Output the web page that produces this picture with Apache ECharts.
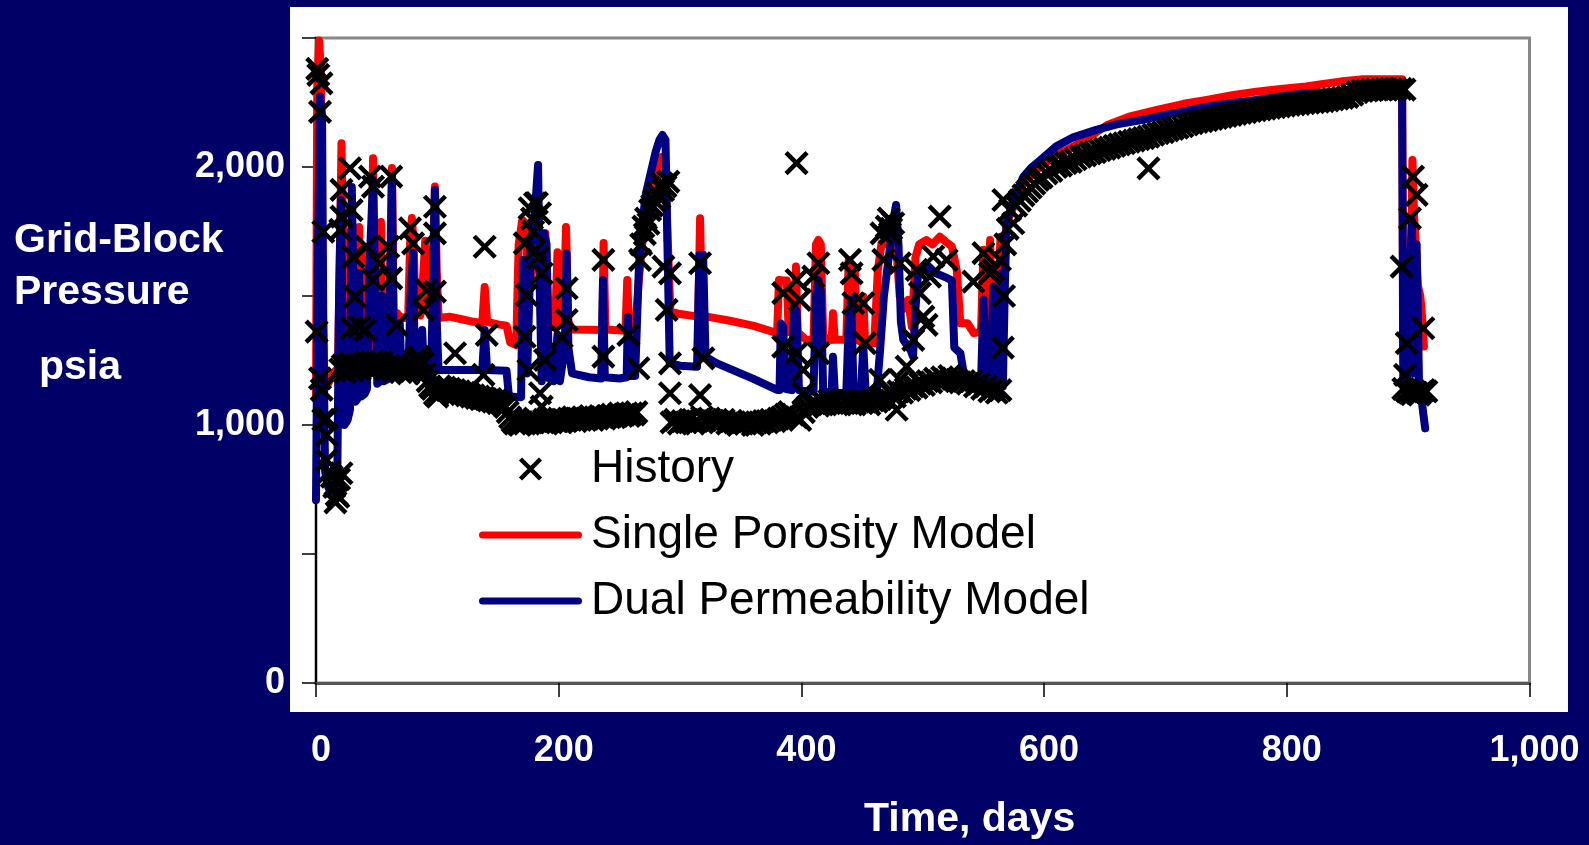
<!DOCTYPE html>
<html>
<head>
<meta charset="utf-8">
<script src="https://cdn.jsdelivr.net/npm/echarts@6/dist/echarts.min.js"></script>
<style>
  html, body { margin: 0; padding: 0; background: #000066; }
  #chart { width: 1589px; height: 845px; }
</style>
</head>
<body>
<div id="chart"></div>
<script>
// 压力历史 (day, psia)
const history = [
  // 早期散点
  [0.5,1362],[1,2380],[1.9,2357],[3.3,2214],[4.5,2324],[6,1749],[3.3,1181],[4.7,1136],[6,1020],
  [8.8,1026],[8.8,961],[8.8,864],[11,820],[13,800],[15,760],[17,729],[18.4,722],[16,700],[19,790],[21,813],
  // 20-100 天
  [20,1215],[22,1230],[24,1205],[26,1225],[28,1240],[30,1210],[32,1225],[34,1235],[36,1215],[38,1230],
  [40,1240],[42,1220],[44,1235],[46,1245],[48,1225],[50,1240],[52,1230],[54,1245],[56,1225],[58,1215],
  [60,1230],[62,1220],[64,1210],[66,1225],[68,1215],[70,1205],[72,1220],[74,1210],[76,1200],[78,1215],
  [80,1230],[82,1250],[84,1265],[86,1255],[88,1240],[90,1200],[92,1170],[94,1150],[96,1140],[98,1120],[100,1110],
  [21,1911],[21,1808],[20,1756],[28,1995],[29.4,1833],[30.8,1652],[32,1497],[29.4,1375],[36,1381],[40.4,1368],
  [44.5,1963],[47,1924],[41.7,1691],[47,1562],[52.7,1627],[59.6,1691],[62,1963],[62,1568],[66.5,1388],
  [77.5,1762],[80,1704],[88.4,1446],[91,1523],[98,1517],[98,1846],[98,1743],[114.6,1278],
  // 100-160 天
  [102,1150],[104,1140],[106,1145],[108,1135],[110,1140],[112,1130],[114,1135],[116,1125],[118,1130],[120,1120],
  [122,1125],[124,1115],[126,1120],[128,1110],[130,1115],[132,1105],[134,1110],[136,1100],[138,1105],[140,1100],
  [142,1095],[144,1100],[146,1090],[148,1095],[150,1085],[152,1090],[154,1080],[156,1070],[158,1050],[160,1030],
  [139,1691],[140.7,1349],[138,1194],
  // 160-265 天
  [162,1015],[164,1005],[166,1010],[168,1000],[170,1010],[172,1005],[174,1015],[176,1020],[178,1010],[180,1025],
  [182,1015],[184,1010],[188,1020],[190,1005],[192,1015],[194,1010],[196,1020],[198,1015],[200,1025],[202,1010],
  [204,1020],[206,1015],[208,1025],[210,1020],[212,1030],[214,1015],[216,1025],[218,1020],[220,1030],[222,1020],
  [224,1025],[226,1035],[228,1020],[230,1030],[232,1025],[234,1035],[236,1030],[238,1025],[240,1035],[242,1030],
  [244,1040],[246,1030],[248,1035],[250,1045],[252,1035],[254,1040],[256,1045],[258,1035],[260,1045],[262,1040],[264,1050],
  [173.6,1504],[172,1704],[180.5,1859],[184.6,1820],[180.5,1678],[186,1588],[172,1342],[175,1213],[188.7,1252],
  [206.6,1530],[206.6,1407],[202.5,1342],[184.6,1123],[186,1071],[176,1840],[178,1800],[182,1860],[179,1750],[183,1650],
  [236.8,1640],[236.8,1265],[257.4,1349],[265.7,1220],[267,1640],[269.8,1769],[272,1800],[275.3,1833],[277,1850],
  [279,1870],[280.8,1898],[283,1880],[284.9,1937],[286,1910],[288,1925],[290.4,1943],[268,1700],[271,1740],[274,1780],
  [286.3,1614],[291.7,1588],[289,1446],[291.7,1239],[291.7,1123],[316.5,1627],[319.2,1258],[316.5,1116],
  // 290-400 天
  [293,1010],[296,1020],[299,1005],[302,1015],[305,1010],[308,1020],[311,1005],[314,1015],[318,1030],[321,1020],
  [324,1025],[327,1015],[330,1020],[333,1010],[336,1020],[339,1005],[342,1015],[345,1010],[348,1000],[351,1010],
  [354,1005],[357,1015],[360,1000],[363,1010],[366,1005],[369,1015],[372,1010],[375,1020],[378,1015],[381,1025],
  [384,1030],[387,1040],[390,1050],[393,1040],[396,1030],[399,1020],
  // 400-566 天
  [402,1050],[405,1070],[408,1080],[411,1085],[414,1075],[417,1090],[420,1080],[423,1095],[426,1085],[429,1090],
  [432,1080],[435,1095],[438,1085],[441,1090],[444,1080],[447,1095],[450,1085],[453,1090],[456,1080],[459,1095],
  [462,1090],[465,1100],[468,1110],[471,1100],[474,1120],[477,1110],[480,1130],[483,1125],[486,1140],[489,1135],
  [492,1150],[495,1145],[498,1160],[501,1155],[504,1170],[507,1165],[510,1180],[513,1170],[516,1185],[519,1175],
  [522,1190],[525,1180],[528,1175],[531,1165],[534,1170],[537,1160],[540,1170],[543,1150],[546,1160],[549,1140],
  [552,1150],[555,1130],[558,1140],[561,1125],[564,1135],
  [396,2015],[385,1511],[396,1562],[398.8,1485],[385,1304],[396,1278],[401.6,1214],[414,1278],[414,1627],
  [409.8,1575],[401.6,1123],[440,1640],[441.4,1588],[442.8,1472],[451,1472],[452.4,1317],[464.7,1175],
  [467.5,1640],[470.3,1769],[473,1743],[475.7,1782],[466,1743],[472,1800],[474,1760],[481.2,1627],[495,1601],
  [497.7,1511],[500.5,1420],[503.2,1388],[492.2,1330],[508.7,1653],[519.7,1640],[506,1575],[486.7,1226],
  [481.2,1175],[478.5,1059],[514,1808],[541.7,1556],[550,1666],[555.4,1588],[563.6,1640],[558,1601],
  // 566-900 天
  [566.4,1872],[571.9,1834],[574.6,1782],[568,1700],[570,1760],[567,1500],[566,1300],[577,1850],[580,1870],
  [583,1890],[586,1905],[589,1920],[592,1935],[595,1950],[598,1960],
  [602,1975],[606,1985],[610,2000],[614,2005],[618,2015],[622,2020],[626,2030],[630,2040],[634,2045],[638,2053],
  [642,2058],[646,2065],[650,2070],[654,2075],[658,2082],[662,2088],[666,2092],[670,2098],[674,2102],[678,2108],
  [682,2112],[686,2118],[690,2125],[694,2131],[698,2135],[702,2142],[706,2148],[710,2152],[714,2158],[718,2165],
  [722,2170],[726,2175],[730,2178],[734,2182],[738,2186],[742,2190],[746,2194],[750,2198],[754,2202],[758,2206],
  [762,2210],[766,2213],[770,2217],[774,2220],[778,2223],[782,2226],[786,2229],[790,2232],[794,2235],[798,2238],
  [802,2241],[806,2243],[810,2245],[814,2247],[818,2249],[822,2251],[826,2253],[830,2255],[834,2258],[838,2262],
  [842,2265],[846,2268],[850,2272],[854,2280],[858,2290],[862,2295],[866,2297],[870,2298],[874,2300],[878,2300],
  [882,2301],[886,2302],[890,2302],[894,2303],[897,2300],
  [686,1995],
  [904,1963],[907,1892],[901.5,1801],[894.6,1614],[912.5,1375],[898.8,1317],[897.4,1194],
  [896,1140],[899,1130],[901,1125],[903,1120],[905,1130],[907,1125],[909,1118],[911,1128],[913,1135],[915,1130]
];

// 单孔模型
const singlePorosity = [
  [0,1100],[1,2300],[2.5,2490],[4,2380],[5.5,1500],[7,1140],[10,1160],[14,1200],[18,1220],
  [19.5,1600],[21,2092],[22.5,1700],[24,1260],[27,1260],[28.5,1750],[30,1650],[31.5,1280],
  [34,1270],[35.5,1767],[37,1300],[40,1270],[41.5,1690],[43,1290],[45,1290],[47,2034],[48.5,1450],[50,1300],
  [52,1300],[53.5,1787],[55,1340],[58,1360],[61,1550],[62.6,1996],[64,1420],[67,1433],[69,1420],
  [73,1415],[76,1420],[77.5,1700],[79,1802],[80.5,1700],[82,1430],[86,1425],[88,1550],[90,1714],[91.5,1480],
  [94,1425],[96,1500],[98,1924],[99.5,1600],[101,1415],[110,1420],[120,1410],[130,1400],[137,1395],[139,1535],
  [141,1400],[150,1390],[157,1385],[160,1320],[165,1310],[167,1700],[170,1795],[173,1780],[175,1500],[178,1600],
  [182,1750],[186,1740],[189,1743],[191,1500],[194,1380],[197,1380],[199,1670],[201,1400],[204,1390],[206,1767],
  [208,1400],[211,1370],[236,1368],[237,1705],[238.5,1370],[255,1365],[256.5,1562],[258,1370],[263,1370],
  [266,1560],[270,1760],[275,1850],[280,1930],[285,2039],[288,1980],[290,1700],[292,1440],[300,1430],[315,1420],
  [316.5,1801],[318,1430],[322,1420],[340,1405],[360,1385],[380,1356],[381.5,1562],[385,1560],[388,1560],
  [389.5,1360],[394,1360],[395.5,1614],[397,1360],[404,1330],[410,1330],[412,1700],[414,1717],[416,1700],
  [418,1340],[425,1330],[426,1433],[427.5,1330],[437,1330],[439,1640],[442,1614],[444,1600],[446,1330],
  [450,1320],[451,1498],[452.5,1317],[460,1317],[463,1600],[466,1704],[470,1700],[474,1720],[478,1700],
  [481,1500],[484,1450],[488,1485],[491,1381],[494,1650],[497,1700],[503,1717],[508,1700],[514,1730],
  [519,1710],[524,1692],[528,1600],[531,1394],[537,1394],[542,1356],[548,1360],[550,1679],[552,1380],
  [554,1390],[555.5,1717],[557,1400],[562,1400],[564,1730],[566,1400],[567.5,1600],[569,1782],[576,1860],
  [583,1937],[597,2002],[610,2045],[624,2079],[640,2125],[652,2163],[670,2195],[693,2221],[715,2245],
  [734,2260],[755,2278],[775,2292],[795,2302],[816,2312],[830,2322],[844,2331],[863,2340],[895,2340],
  [896,1300],[899,1200],[902,1500],[903.5,2027],[905,1800],[906.5,1795],[908,1540],[910,1500],[911.5,1420],[913,1304]
];

// 双渗模型
const dualPerm = [
  [0,709],[1.5,1600],[3.3,2273],[5,2200],[6,1400],[7.5,820],[10,760],[13,730],[16,715],[17.5,780],
  [19,1500],[20.5,1872],[22,1300],[23.5,1000],[26,1019],[28,1060],[29.5,1922],[31,1500],[32.5,1090],
  [34,1100],[35.5,1589],[37,1110],[40,1120],[42,1140],[44,1600],[47,1950],[49,1500],[50.5,1160],[53,1170],
  [54.5,1500],[56,1170],[60,1180],[61.5,1650],[62.6,1961],[64,1300],[66,1190],[68,1200],[69,1394],[70.5,1200],
  [76,1190],[78,1500],[80,1667],[81.5,1200],[86,1190],[87.5,1368],[89,1190],[95,1200],[96.5,1600],[98,1911],
  [99.5,1400],[101,1213],[137,1213],[139,1368],[141,1213],[157,1210],[159,1110],[169,1108],[170.5,1640],
  [172,1450],[174,1200],[177,1700],[180,1800],[183,2008],[184.5,1500],[186,1170],[188,1743],[190,1700],
  [192,1180],[196,1170],[199,1350],[201,1170],[205,1300],[206.5,1665],[208,1300],[211,1200],[225,1185],
  [235,1180],[236.5,1562],[238,1185],[250,1180],[256,1185],[257,1420],[258.5,1190],[263,1190],[266,1600],
  [268,1750],[272,1900],[277,2000],[280,2060],[283,2105],[285.5,2124],[288,2105],[290,1600],[291.5,1240],
  [300,1230],[314,1226],[316,1660],[319,1660],[321,1265],[330,1240],[345,1210],[360,1180],[380,1136],
  [382,1136],[383,1394],[385,1380],[387,1140],[392,1135],[394,1459],[396,1440],[398,1135],[405,1130],
  [410,1130],[412,1500],[414,1562],[416,1520],[418,1125],[425,1130],[426,1265],[427.5,1125],[437,1123],
  [439,1400],[441,1485],[443,1130],[449,1125],[451,1304],[453,1125],[462,1123],[465,1300],[468,1500],
  [472,1650],[476,1800],[478,1853],[480,1700],[482,1400],[484,1330],[490,1290],[492,1265],[494,1450],
  [496,1580],[500,1600],[505,1614],[510,1590],[515,1580],[520,1570],[524,1560],[526,1300],[531,1278],
  [535,1165],[548,1160],[550,1485],[552,1160],[556,1170],[558,1537],[560,1160],[564,1170],[565,1588],
  [566,1150],[567.5,1500],[569,1780],[575,1880],[583,1963],[590,2000],[597,2027],[610,2080],[624,2115],
  [643,2144],[660,2165],[680,2182],[693,2195],[715,2215],[734,2234],[755,2248],[775,2260],[795,2273],
  [816,2286],[844,2292],[863,2312],[895,2312],[896,1150],[899,1120],[901,1500],[903,1795],[905,1200],
  [907,1700],[909,1150],[911,1100],[914,987]
];

const FONT = "'Liberation Sans', Arial, sans-serif";
const CROSS = "path://M0,0L10,10M10,0L0,10";
// 图例中的粗线条 (圆头)
const BAR = "path://M3.5,0H99.5A3.5,3.5,0,0,1,99.5,7H3.5A3.5,3.5,0,0,1,3.5,0Z";
const crossStyle = { color: "none", borderColor: "#000", borderWidth: 4.5, opacity: 1 };

// 千分位
const fmt = (v) => String(v).replace(/\B(?=(\d{3})+(?!\d))/g, ",");

const chart = echarts.init(document.getElementById("chart"));

const options = {
  backgroundColor: "#000066",
  animation: false,
  // 白色面板
  graphic: [
    {
      type: "rect",
      z: -10,
      shape: { x: 290, y: 7, width: 1278, height: 705 },
      style: { fill: "#ffffff" },
    },
  ],
  title: [
    {
      text: "Grid-Block\nPressure",
      left: 14,
      top: 215,
      padding: 0,
      textStyle: { color: "#fff", fontSize: 41, fontWeight: "bold", lineHeight: 52, fontFamily: FONT },
    },
    {
      text: "psia",
      left: 39,
      top: 347,
      padding: 0,
      textStyle: { color: "#fff", fontSize: 41, fontWeight: "bold", lineHeight: 41, fontFamily: FONT },
    },
    {
      text: "Time, days",
      left: 864,
      top: 799,
      padding: 0,
      textStyle: { color: "#fff", fontSize: 41, fontWeight: "bold", lineHeight: 41, fontFamily: FONT },
    },
  ],
  legend: {
    data: [
      { name: "History", icon: CROSS, itemStyle: crossStyle },
      { name: "Single Porosity Model", icon: BAR },
      { name: "Dual Permeability Model", icon: BAR },
    ],
    orient: "vertical",
    left: 479,
    top: 446,
    padding: 0,
    itemWidth: 103,
    itemHeight: 20,
    itemGap: 20,
    selectedMode: false,
    textStyle: { color: "#000", fontSize: 46, lineHeight: 46, fontFamily: FONT, padding: [0, 0, 0, 4] },
  },
  grid: {
    left: 316,
    top: 38,
    width: 1213.5,
    height: 645,
    show: true,
    backgroundColor: "transparent",
    borderColor: "#888",
    borderWidth: 3,
    outerBoundsMode: "none",
  },
  xAxis: {
    type: "value",
    min: 0,
    max: 1000,
    interval: 200,
    splitLine: { show: false },
    axisLine: { lineStyle: { color: "#555", width: 3 } },
    axisTick: { length: 14, lineStyle: { color: "#000", width: 1.5 } },
    axisLabel: {
      margin: 50,
      padding: [0, 0, 0, 10],
      color: "#fff",
      fontSize: 36,
      fontWeight: "bold",
      fontFamily: FONT,
      formatter: fmt,
    },
  },
  yAxis: {
    type: "value",
    min: 0,
    max: 2500,
    interval: 500,
    splitLine: { show: false },
    axisLine: { show: true, lineStyle: { color: "#000", width: 2 } },
    axisTick: { show: true, length: 14, lineStyle: { color: "#000", width: 1.5 } },
    axisLabel: {
      margin: 31,
      color: "#fff",
      fontSize: 36,
      fontWeight: "bold",
      fontFamily: FONT,
      formatter: (v) => (v % 1000 === 0 ? fmt(v) : ""),
    },
  },
  series: [
    {
      name: "Single Porosity Model",
      type: "line",
      data: singlePorosity,
      showSymbol: false,
      symbol: "none",
      z: 2,
      itemStyle: { color: "#ff0000" },
      lineStyle: { color: "#ff0000", width: 8, cap: "round", join: "round" },
    },
    {
      name: "Dual Permeability Model",
      type: "line",
      data: dualPerm,
      showSymbol: false,
      symbol: "none",
      z: 3,
      itemStyle: { color: "#000080" },
      lineStyle: { color: "#000080", width: 8, cap: "round", join: "round" },
    },
    {
      name: "History",
      type: "scatter",
      data: history,
      symbol: CROSS,
      symbolSize: 21,
      z: 4,
      itemStyle: crossStyle,
    },
  ],
};

chart.setOption(options);
</script>
</body>
</html>
